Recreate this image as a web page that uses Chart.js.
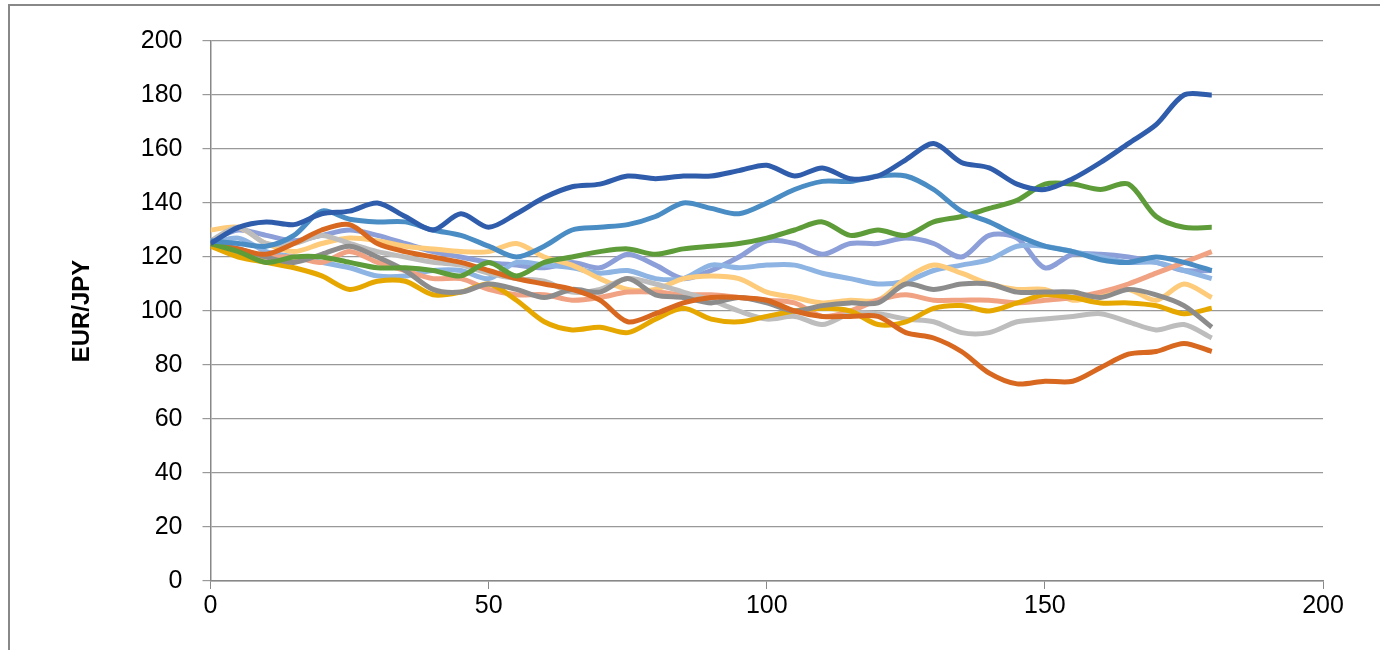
<!DOCTYPE html>
<html>
<head>
<meta charset="utf-8">
<script src="https://cdn.jsdelivr.net/npm/chart.js@4"></script>
<style>
  body { margin: 0; background: #fff; }
  #wrap { position: absolute; left: 8px; top: 4px; width: 1370px; height: 646px; border: 2px solid #888; border-bottom: none; border-right: none; }
</style>
</head>
<body>
<div id="wrap"><canvas id="chart" width="1370" height="640"></canvas></div>
<script>
// time steps shared by every path
const steps = [0,5,10,15,20,25,30,35,40,45,50,55,60,65,70,75,80,85,90,95,100,105,110,115,120,125,130,135,140,145,150,155,160,165,170,175,180];

// simulated EUR/JPY paths
const path1 = [125,131,133,132,136,137,140,135,130,136,131,136,142,146,147,150,149,150,150,152,154,150,153,149,150,156,162,155,153,147,145,149,155,162,169,180,180];
const path2 = [126,125,124,128,137,134,133,133,130,128,124,120,124,130,131,132,135,140,138,136,140,145,148,148,150,150,145,137,133,128,124,122,119,118,120,118,115];
const path3 = [125,122,118,120,120,118,116,116,115,113,118,113,118,120,122,123,121,123,124,125,127,130,133,128,130,128,133,135,138,141,147,147,145,147,135,131,131];
const path4 = [125,123,121,125,130,132,125,122,120,118,115,112,110,108,104,96,99,103,105,105,104,100,98,98,98,92,90,85,77,73,74,74,79,84,85,88,85];
const path5 = [125,123,120,118,121,124,120,115,108,107,110,108,105,108,107,112,106,105,103,105,103,100,102,103,103,110,108,110,110,107,107,107,105,108,106,102,94];
const path6 = [124,120,118,116,113,108,111,111,106,107,110,104,96,93,94,92,97,101,97,96,98,100,101,100,95,96,101,102,100,103,106,105,103,103,102,99,101];
const path7 = [126,131,125,125,128,125,122,120,118,117,114,112,111,107,108,112,110,107,104,100,97,98,95,99,99,97,96,92,92,96,97,98,99,96,93,95,90];
const path8 = [125,121,120,120,118,122,118,115,112,112,108,106,106,104,105,107,107,106,106,105,104,103,98,100,104,106,104,104,104,103,104,105,107,110,114,118,122];
const path9 = [130,131,125,122,125,127,126,124,123,122,122,125,120,117,112,108,108,112,113,112,107,105,103,104,104,112,117,114,110,108,108,104,106,108,104,110,105];
const path10 = [125,127,122,120,118,116,113,113,115,115,112,118,117,116,114,115,112,112,117,116,117,117,114,112,110,111,115,117,119,124,124,122,120,118,118,115,112];
const path11 = [126,130,128,126,128,130,128,125,122,120,118,117,116,118,116,121,117,112,115,120,126,125,121,125,125,127,125,120,128,127,116,121,121,120,118,115,115];

const yTicks = [0,20,40,60,80,100,120,140,160,180,200];
const xTicks = [0,50,100,150,200];

const paths = [path1,path2,path3,path4,path5,path6,path7,path8,path9,path10,path11];
const colors = ["#2f5dac","#4a8cc4","#5e9c3a","#d8681f","#8c8c8c","#e6a800","#bdbdbd","#f0a283","#fdcb7a","#8db4e2","#8c9fd8"];

const datasets = paths.map((p, i) => ({
  data: p.map((v, j) => ({ x: steps[j], y: v })),
  borderColor: colors[i],
  borderWidth: 5,
  pointRadius: 0,
  tension: 0.3,
  fill: false,
  order: i
}));

const tickFont = { family: "Liberation Sans", size: 25 };

new Chart(document.getElementById("chart").getContext("2d"), {
  type: "line",
  data: { datasets },
  options: {
    responsive: false,
    animation: false,
    devicePixelRatio: 1,
    layout: { padding: { left: 58, right: 57, top: 30, bottom: 23 } },
    plugins: { legend: { display: false }, tooltip: { enabled: false } },
    scales: {
      x: {
        type: "linear", min: 0, max: 200,
        afterBuildTicks: s => { s.ticks = xTicks.map(v => ({ value: v })); },
        grid: { drawOnChartArea: false, color: "#888", tickLength: 8 },
        border: { color: "#888", width: 1.5 },
        ticks: { color: "#000", font: tickFont, padding: 2, maxRotation: 0, autoSkip: false }
      },
      y: {
        min: 0, max: 200,
        afterBuildTicks: s => { s.ticks = yTicks.map(v => ({ value: v })); },
        grid: { color: "#999", lineWidth: 1.2, tickLength: 8 },
        border: { color: "#888", width: 1.5 },
        ticks: { color: "#000", font: tickFont, padding: 20, autoSkip: false },
        title: { display: true, text: "EUR/JPY", color: "#000", padding: { top: 0, bottom: 24 }, font: { family: "Liberation Sans", size: 24, weight: "bold" } }
      }
    }
  }
});
</script>
</body>
</html>
